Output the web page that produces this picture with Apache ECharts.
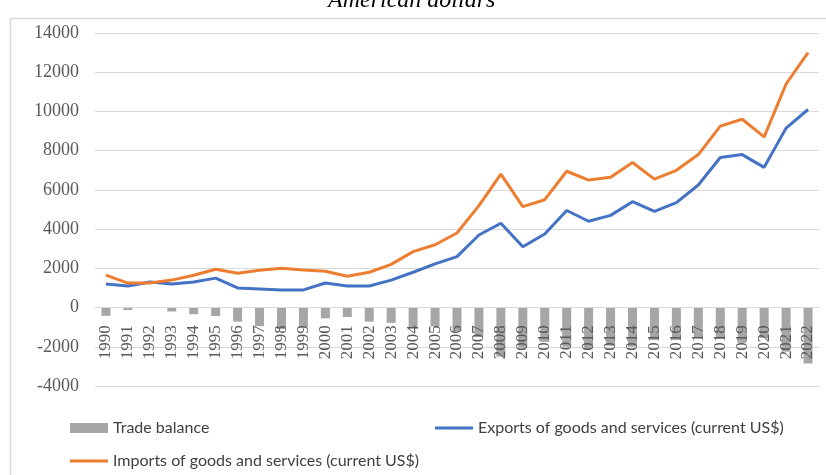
<!DOCTYPE html>
<html>
<head>
<meta charset="utf-8">
<script src="https://cdn.jsdelivr.net/npm/echarts@6/dist/echarts.min.js"></script>
<style>
  html,body{margin:0;padding:0;background:#fff;}
  #main{width:826px;height:475px;}
</style>
</head>
<body>
<div id="main"></div>
<script>
// years on the category axis
const years = ['1990','1991','1992','1993','1994','1995','1996','1997','1998','1999',
  '2000','2001','2002','2003','2004','2005','2006','2007','2008','2009',
  '2010','2011','2012','2013','2014','2015','2016','2017','2018','2019',
  '2020','2021','2022'];
// trade balance (bars)
const tradeBalance = [-420,-130,0,-200,-340,-430,-720,-950,-1100,-1000,
  -550,-480,-720,-780,-1050,-970,-1200,-1500,-2500,-2050,
  -1750,-2000,-2100,-1950,-2000,-1650,-1650,-1550,-1600,-1800,
  -1550,-2250,-2850];
// exports of goods and services (blue)
const exportsVal = [1200,1100,1300,1200,1300,1500,1000,950,900,900,
  1250,1100,1100,1400,1800,2230,2600,3700,4300,3100,
  3750,4950,4400,4700,5400,4900,5350,6250,7650,7800,
  7150,9150,10100];
// imports of goods and services (orange)
const importsVal = [1650,1250,1250,1400,1650,1950,1750,1900,2000,1920,
  1850,1600,1800,2200,2850,3200,3800,5200,6800,5150,
  5500,6950,6500,6650,7400,6550,7000,7800,9250,9600,
  8700,11400,13000];
const yTicks = {min:-4000, max:14000, interval:2000};

const chart = echarts.init(document.getElementById('main'));
const legendText = {fontFamily:'Lato, sans-serif', fontSize:16, color:'#404040'};
const option = {
  animation:false,
  title:{
    text:'American dollars',
    left:323, top:-16,
    textStyle:{fontFamily:'"Liberation Serif",serif', fontStyle:'italic', fontWeight:'normal', fontSize:24, color:'#000'}
  },
  graphic:[{
    type:'rect', shape:{x:10.5, y:18.5, width:830, height:470},
    style:{fill:'none', stroke:'#d9d9d9', lineWidth:1.5}, silent:true
  }],
  grid:{left:95, right:7, top:33, bottom:89, containLabel:false},
  legend:[
    {data:[{name:'Trade balance', icon:'rect'}], left:65, top:415, itemWidth:38, itemHeight:10, textStyle:legendText},
    {data:[{name:'Exports of goods and services (current US$)', icon:'rect'}], left:430, top:415, itemWidth:38, itemHeight:3, textStyle:legendText},
    {data:[{name:'Imports of goods and services (current US$)', icon:'rect'}], left:65, top:448, itemWidth:38, itemHeight:3, textStyle:legendText}
  ],
  xAxis:{
    type:'category', data:years, z:10,
    offset:-78.7,
    axisLine:{onZero:false, lineStyle:{color:'#d9d9d9'}},
    axisTick:{show:false},
    axisLabel:{rotate:90, margin:18, interval:0, color:'#595959', fontFamily:'"Liberation Serif",serif', fontSize:17}
  },
  yAxis:{
    type:'value', min:yTicks.min, max:yTicks.max, interval:yTicks.interval,
    axisLine:{show:false}, axisTick:{show:false},
    splitLine:{lineStyle:{color:'#d9d9d9', width:1}},
    axisLabel:{margin:16, color:'#595959', fontFamily:'"Liberation Serif",serif', fontSize:18,
      formatter:v => String(v)}
  },
  series:[
    {name:'Trade balance', type:'bar', data:tradeBalance, barWidth:9, itemStyle:{color:'#a6a6a6'}},
    {name:'Exports of goods and services (current US$)', type:'line', data:exportsVal, symbol:'none',
      lineStyle:{color:'#4472c4', width:3}, itemStyle:{color:'#4472c4'}},
    {name:'Imports of goods and services (current US$)', type:'line', data:importsVal, symbol:'none',
      lineStyle:{color:'#ed7d31', width:3}, itemStyle:{color:'#ed7d31'}}
  ]
};
chart.setOption(option);
</script>
</body>
</html>
